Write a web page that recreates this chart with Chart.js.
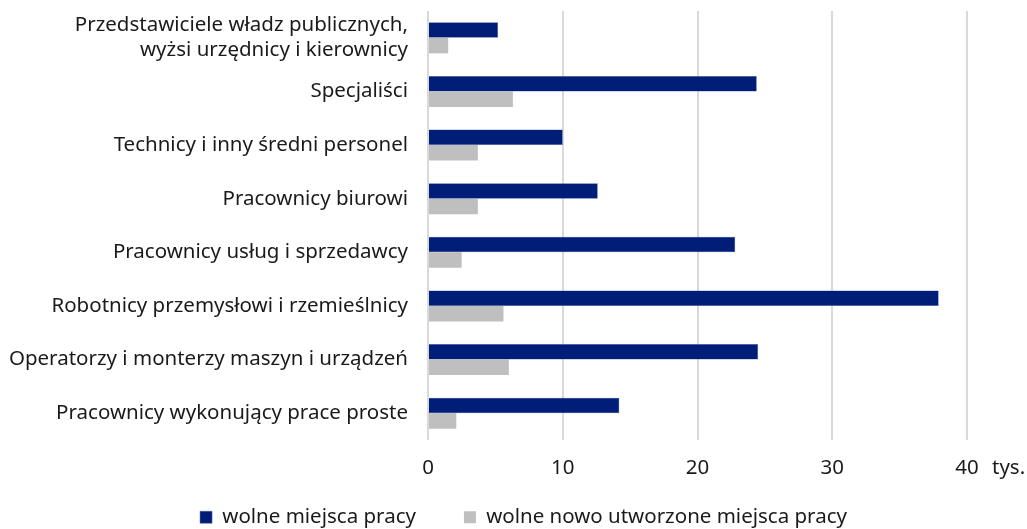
<!DOCTYPE html>
<html lang="pl">
<head>
<meta charset="utf-8">
<title>Wolne miejsca pracy</title>
<script src="https://cdn.jsdelivr.net/npm/chart.js@4.4.1/dist/chart.umd.min.js"></script>
<style>
  html, body { margin: 0; padding: 0; background: #fff; }
  #wrap { width: 1027px; height: 529px; }
</style>
</head>
<body>
<div id="wrap"><canvas id="jobsChart" width="1027" height="529"></canvas></div>
<script>
const categories = [
  ["Przedstawiciele władz publicznych,", "wyżsi urzędnicy i kierownicy"],
  "Specjaliści",
  "Technicy i inny średni personel",
  "Pracownicy biurowi",
  "Pracownicy usług i sprzedawcy",
  "Robotnicy przemysłowi i rzemieślnicy",
  "Operatorzy i monterzy maszyn i urządzeń",
  "Pracownicy wykonujący prace proste"
];
const vacancies = [5.2, 24.4, 10.0, 12.6, 22.8, 37.9, 24.5, 14.2];
const newVacancies = [1.5, 6.3, 3.7, 3.7, 2.5, 5.6, 6.0, 2.1];
const seriesNames = ["wolne miejsca pracy", "wolne nowo utworzone miejsca pracy"];
const unitLabel = "tys.";

const FONT = "'Noto Sans', 'Open Sans', sans-serif";
const FS = 20.5;
const TICK_PAD = 16;
const LEGEND_PAD = 48;

// draws "tys." after the last x tick, and moves the legend to where it sits in the original
const unitPlugin = {
  id: "unitLabel",
  afterLayout(chart) {
    const lg = chart.legend;
    lg.top -= 14 + (LEGEND_PAD - 40);
    lg.left += 40;
    lg.right += 40;
  },
  afterDraw(chart) {
    const ctx = chart.ctx;
    const x = chart.scales.x;
    ctx.save();
    ctx.font = FS + "px " + FONT;
    ctx.fillStyle = "#1a1a1a";
    ctx.textAlign = "left";
    ctx.textBaseline = "middle";
    ctx.fillText(unitLabel, x.right + 25, x.top + TICK_PAD + FS * 0.6);
    ctx.restore();
  }
};

new Chart(document.getElementById("jobsChart"), {
  type: "bar",
  data: {
    labels: categories,
    datasets: [
      {
        label: seriesNames[0],
        data: vacancies,
        backgroundColor: "#001e78",
        borderColor: "#4a5f9e",
        borderWidth: 0.5,
        categoryPercentage: 0.58,
        barPercentage: 1.0
      },
      {
        label: seriesNames[1],
        data: newVacancies,
        backgroundColor: "#bfbfbf",
        borderWidth: 0,
        categoryPercentage: 0.58,
        barPercentage: 1.0
      }
    ]
  },
  options: {
    indexAxis: "y",
    responsive: false,
    animation: false,
    layout: { padding: { top: 11, right: 60, bottom: 0, left: 0 } },
    plugins: {
      tooltip: { enabled: false },
      legend: {
        position: "bottom",
        maxHeight: 48,
        labels: {
          font: { family: FONT, size: FS },
          color: "#1a1a1a",
          boxWidth: 12,
          boxHeight: 12,
          padding: LEGEND_PAD
        }
      }
    },
    scales: {
      x: {
        min: 0,
        max: 40,
        ticks: {
          stepSize: 10,
          color: "#1a1a1a",
          font: { family: FONT, size: FS },
          padding: TICK_PAD
        },
        grid: { color: "#d9d9d9", lineWidth: 2, drawTicks: false },
        border: { display: false },
        afterFit(scale) { scale.height = 41; }
      },
      y: {
        ticks: {
          autoSkip: false,
          color: "#1a1a1a",
          font: { family: FONT, size: FS },
          padding: 20
        },
        grid: { display: false, drawTicks: false },
        border: { display: false },
        afterFit(scale) {
          scale.width = 428;
          scale.paddingTop = 0;
          scale.paddingBottom = 0;
        }
      }
    }
  },
  plugins: [unitPlugin]
});
</script>
</body>
</html>
